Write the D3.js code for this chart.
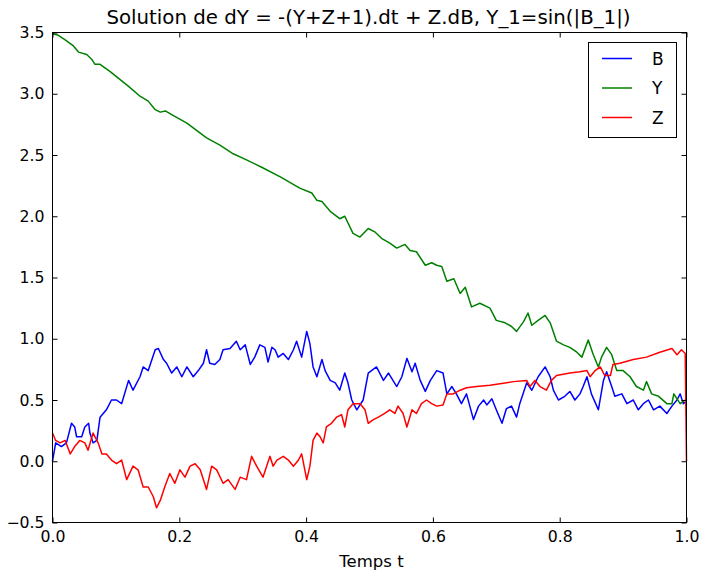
<!DOCTYPE html>
<html>
<head>
<meta charset="utf-8">
<script src="https://cdn.jsdelivr.net/npm/d3@7"></script>
<style>
  body { margin: 0; background: white; }
  text { font-family: "DejaVu Sans", sans-serif; fill: black; }
</style>
</head>
<body>
<svg id="chart"></svg>
<script>

var width = 702;
var height = 572;

// data, [t, value]
var seriesNames = ["B", "Y", "Z"];
var seriesColors = ["#0000ff", "#008000", "#ff0000"];

var dataB = [
  [0.000, 0.00], [0.005, 0.15], [0.014, 0.12], [0.022, 0.15], [0.030, 0.31], [0.035, 0.28],
  [0.038, 0.20], [0.046, 0.20], [0.051, 0.28], [0.057, 0.31], [0.059, 0.23], [0.064, 0.15],
  [0.070, 0.17], [0.075, 0.36], [0.085, 0.42], [0.093, 0.50], [0.101, 0.50], [0.109, 0.47],
  [0.120, 0.66], [0.127, 0.58], [0.138, 0.69], [0.143, 0.77], [0.151, 0.74], [0.162, 0.91],
  [0.167, 0.92], [0.175, 0.83], [0.180, 0.80], [0.188, 0.72], [0.196, 0.77], [0.204, 0.69],
  [0.212, 0.77], [0.222, 0.69], [0.230, 0.74], [0.238, 0.80], [0.243, 0.91], [0.248, 0.80],
  [0.256, 0.79], [0.264, 0.83], [0.269, 0.91], [0.280, 0.92], [0.290, 0.98], [0.296, 0.91],
  [0.304, 0.95], [0.312, 0.79], [0.319, 0.85], [0.327, 0.95], [0.335, 0.93], [0.340, 0.81],
  [0.346, 0.93], [0.351, 0.91], [0.356, 0.85], [0.364, 0.88], [0.372, 0.83], [0.380, 0.91],
  [0.385, 0.98], [0.393, 0.85], [0.401, 1.06], [0.406, 0.96], [0.411, 0.77], [0.417, 0.69],
  [0.425, 0.83], [0.430, 0.74], [0.438, 0.66], [0.446, 0.64], [0.453, 0.58], [0.461, 0.72],
  [0.466, 0.64], [0.472, 0.50], [0.480, 0.42], [0.490, 0.50], [0.498, 0.72], [0.511, 0.77],
  [0.522, 0.66], [0.530, 0.72], [0.543, 0.61], [0.551, 0.69], [0.559, 0.84], [0.567, 0.73],
  [0.572, 0.80], [0.580, 0.66], [0.588, 0.57], [0.596, 0.66], [0.606, 0.74], [0.616, 0.72],
  [0.622, 0.55], [0.630, 0.61], [0.637, 0.55], [0.645, 0.47], [0.653, 0.55], [0.664, 0.34],
  [0.672, 0.45], [0.680, 0.50], [0.685, 0.46], [0.693, 0.51], [0.700, 0.42], [0.709, 0.31],
  [0.716, 0.43], [0.724, 0.45], [0.732, 0.36], [0.737, 0.47], [0.748, 0.64], [0.756, 0.58],
  [0.766, 0.69], [0.777, 0.77], [0.785, 0.69], [0.790, 0.58], [0.798, 0.50], [0.808, 0.53],
  [0.816, 0.57], [0.824, 0.50], [0.832, 0.55], [0.837, 0.61], [0.843, 0.69], [0.850, 0.55],
  [0.861, 0.42], [0.869, 0.66], [0.874, 0.73], [0.882, 0.61], [0.887, 0.53], [0.898, 0.55],
  [0.906, 0.47], [0.916, 0.50], [0.924, 0.42], [0.932, 0.47], [0.940, 0.50], [0.948, 0.42],
  [0.958, 0.45], [0.969, 0.39], [0.977, 0.45], [0.985, 0.50], [0.990, 0.55], [0.995, 0.47],
  [1.000, 0.49]
];

var dataY = [
  [0.000, 3.49], [0.008, 3.48], [0.020, 3.44], [0.033, 3.39], [0.041, 3.34], [0.054, 3.32],
  [0.062, 3.28], [0.067, 3.24], [0.075, 3.24], [0.091, 3.18], [0.120, 3.06], [0.138, 2.98],
  [0.151, 2.94], [0.162, 2.87], [0.170, 2.85], [0.178, 2.86], [0.188, 2.83], [0.212, 2.76],
  [0.243, 2.64], [0.264, 2.58], [0.285, 2.51], [0.306, 2.46], [0.330, 2.40], [0.360, 2.32],
  [0.390, 2.23], [0.409, 2.19], [0.417, 2.13], [0.425, 2.12], [0.438, 2.04], [0.453, 1.98],
  [0.461, 2.00], [0.474, 1.86], [0.485, 1.83], [0.498, 1.90], [0.509, 1.87], [0.519, 1.82],
  [0.532, 1.78], [0.543, 1.74], [0.556, 1.77], [0.564, 1.72], [0.574, 1.71], [0.588, 1.60],
  [0.598, 1.62], [0.606, 1.60], [0.614, 1.59], [0.622, 1.47], [0.633, 1.49], [0.643, 1.37],
  [0.651, 1.42], [0.661, 1.26], [0.674, 1.29], [0.690, 1.25], [0.700, 1.15], [0.714, 1.13],
  [0.724, 1.10], [0.732, 1.06], [0.743, 1.14], [0.750, 1.21], [0.756, 1.11], [0.766, 1.15],
  [0.777, 1.19], [0.785, 1.13], [0.795, 0.98], [0.806, 0.95], [0.816, 0.93], [0.827, 0.89],
  [0.835, 0.85], [0.845, 0.99], [0.853, 0.87], [0.861, 0.77], [0.866, 0.85], [0.874, 0.93],
  [0.882, 0.87], [0.890, 0.74], [0.900, 0.74], [0.911, 0.69], [0.921, 0.61], [0.932, 0.58],
  [0.937, 0.65], [0.945, 0.55], [0.956, 0.53], [0.969, 0.47], [0.977, 0.47], [0.980, 0.55],
  [0.990, 0.47], [0.998, 0.50]
];

var dataZ = [
  [0.000, 0.23], [0.005, 0.17], [0.012, 0.15], [0.020, 0.17], [0.028, 0.06], [0.035, 0.12],
  [0.043, 0.17], [0.051, 0.15], [0.056, 0.09], [0.064, 0.23], [0.072, 0.15], [0.078, 0.06],
  [0.085, 0.06], [0.093, 0.01], [0.101, -0.02], [0.109, 0.01], [0.117, -0.15], [0.127, -0.04],
  [0.135, -0.07], [0.143, -0.21], [0.151, -0.21], [0.159, -0.29], [0.164, -0.38], [0.170, -0.32],
  [0.177, -0.21], [0.185, -0.10], [0.193, -0.18], [0.201, -0.07], [0.209, -0.13], [0.217, -0.04],
  [0.225, -0.02], [0.233, -0.07], [0.243, -0.23], [0.251, -0.04], [0.259, -0.07], [0.269, -0.18],
  [0.277, -0.15], [0.288, -0.23], [0.296, -0.13], [0.306, -0.15], [0.314, 0.04], [0.322, -0.04],
  [0.332, -0.13], [0.343, 0.04], [0.348, -0.04], [0.354, 0.01], [0.364, 0.04], [0.372, 0.01],
  [0.380, -0.04], [0.388, 0.01], [0.393, 0.06], [0.401, -0.15], [0.406, -0.04], [0.411, 0.17],
  [0.417, 0.23], [0.422, 0.20], [0.427, 0.15], [0.432, 0.28], [0.440, 0.31], [0.448, 0.36],
  [0.456, 0.38], [0.461, 0.28], [0.466, 0.42], [0.474, 0.47], [0.485, 0.47], [0.493, 0.42],
  [0.498, 0.31], [0.506, 0.34], [0.514, 0.36], [0.524, 0.39], [0.532, 0.42], [0.540, 0.39],
  [0.545, 0.45], [0.553, 0.39], [0.559, 0.28], [0.567, 0.42], [0.574, 0.39], [0.582, 0.47],
  [0.590, 0.50], [0.598, 0.47], [0.606, 0.45], [0.616, 0.46], [0.622, 0.55], [0.632, 0.55],
  [0.643, 0.58], [0.653, 0.60], [0.669, 0.61], [0.690, 0.62], [0.727, 0.65], [0.748, 0.66],
  [0.753, 0.61], [0.761, 0.66], [0.769, 0.61], [0.779, 0.58], [0.787, 0.66], [0.795, 0.70],
  [0.816, 0.72], [0.832, 0.73], [0.843, 0.74], [0.848, 0.69], [0.856, 0.74], [0.864, 0.77],
  [0.871, 0.70], [0.880, 0.70], [0.884, 0.79], [0.895, 0.80], [0.916, 0.83], [0.937, 0.85],
  [0.958, 0.89], [0.977, 0.92], [0.985, 0.87], [0.992, 0.91], [0.998, 0.88], [1.000, 0.00]
];

var xTicks = [0.0, 0.2, 0.4, 0.6, 0.8, 1.0];
var yTicks = [-0.5, 0.0, 0.5, 1.0, 1.5, 2.0, 2.5, 3.0, 3.5];

var titleText = "Solution de dY = -(Y+Z+1).dt + Z.dB, Y_1=sin(|B_1|)";
var xLabelText = "Temps t";

var svg = d3.select("#chart")
  .attr("width", width)
  .attr("height", height);

var plot = { left: 52.5, right: 686.5, top: 32.5, bottom: 522.5 };

var x = d3.scaleLinear().domain([0, 1]).range([plot.left, plot.right]);
var y = d3.scaleLinear().domain([-0.5, 3.5]).range([plot.bottom, plot.top]);

var fmt = d3.format(".1f");

// lines
var line = d3.line()
  .x(function(d) { return x(d[0]); })
  .y(function(d) { return y(d[1]); });

var allData = [dataB, dataY, dataZ];

svg.append("g")
  .selectAll("path")
  .data(allData)
  .enter().append("path")
  .attr("d", line)
  .attr("fill", "none")
  .attr("stroke", function(d, i) { return seriesColors[i]; })
  .attr("stroke-width", 1.5)
  .attr("stroke-linejoin", "round");

// axes, ticks pointing inwards like matplotlib classic
svg.append("g")
  .attr("transform", "translate(0," + plot.bottom + ")")
  .call(d3.axisBottom(x).tickValues(xTicks).tickFormat(fmt).tickSize(-5).tickPadding(8));

svg.append("g")
  .attr("transform", "translate(0," + plot.top + ")")
  .call(d3.axisTop(x).tickValues(xTicks).tickFormat("").tickSize(-5));

svg.append("g")
  .attr("transform", "translate(" + plot.left + ",0)")
  .call(d3.axisLeft(y).tickValues(yTicks).tickFormat(fmt).tickSize(-5).tickPadding(8));

svg.append("g")
  .attr("transform", "translate(" + plot.right + ",0)")
  .call(d3.axisRight(y).tickValues(yTicks).tickFormat("").tickSize(-5));

svg.selectAll(".domain").remove();
svg.selectAll(".tick line").attr("stroke", "black").attr("stroke-width", 1);
svg.selectAll(".tick text")
  .style("font-family", "DejaVu Sans")
  .style("font-size", "15.7px")
  .attr("fill", "black");

// frame
svg.append("rect")
  .attr("x", plot.left)
  .attr("y", plot.top)
  .attr("width", plot.right - plot.left)
  .attr("height", plot.bottom - plot.top)
  .attr("fill", "none")
  .attr("stroke", "black")
  .attr("stroke-width", 1);

// title and label
svg.append("text")
  .attr("x", 368.5)
  .attr("y", 24)
  .attr("text-anchor", "middle")
  .style("font-size", "19.8px")
  .text(titleText);

svg.append("text")
  .attr("x", 371.5)
  .attr("y", 567)
  .attr("text-anchor", "middle")
  .style("font-size", "16.5px")
  .text(xLabelText);

// legend
var legend = svg.append("g");

legend.append("rect")
  .attr("x", 588.5)
  .attr("y", 42.5)
  .attr("width", 88)
  .attr("height", 95)
  .attr("fill", "white")
  .attr("stroke", "black")
  .attr("stroke-width", 1);

var rows = legend.selectAll("g.row")
  .data(seriesNames)
  .enter().append("g")
  .attr("class", "row")
  .attr("transform", function(d, i) { return "translate(0," + (58.5 + i * 29.5) + ")"; });

rows.append("line")
  .attr("x1", 602)
  .attr("x2", 632)
  .attr("stroke", function(d, i) { return seriesColors[i]; })
  .attr("stroke-width", 1.5);

rows.append("text")
  .attr("x", 652)
  .attr("dy", "0.36em")
  .style("font-size", "17px")
  .text(function(d) { return d; });

</script>
</body>
</html>
